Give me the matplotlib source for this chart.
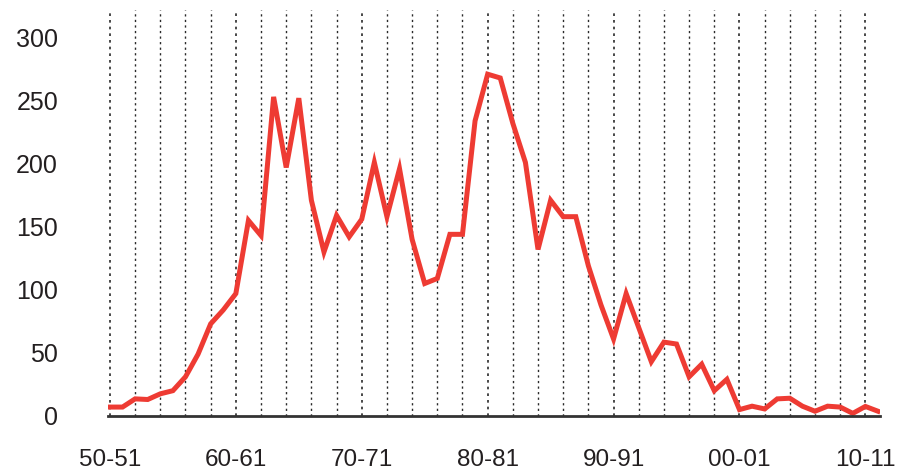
import matplotlib.pyplot as plt
import numpy as np

plt.rcParams["font.family"] = ["Liberation Sans", "DejaVu Sans"]

# seasons 1950-51 .. 2011-12
seasons = [f"{y % 100:02d}-{(y + 1) % 100:02d}" for y in range(1950, 2012)]
values = [7, 7, 13.5, 13, 17.5, 20, 31, 49, 73, 84,
          97, 155, 143, 253, 197, 252, 171, 130, 159, 142,
          156, 201, 158, 196, 140, 105, 109, 144, 144, 234,
          271, 268, 232, 201, 132, 171, 158, 158, 119, 88,
          61, 97, 70, 43, 58.5, 57, 31, 41, 20, 29,
          5, 7.7, 5.5, 13.5, 14, 7.7, 3.7, 7.7, 7, 2,
          7.5, 3.7]
tick_labels = ["50-51", "60-61", "70-71", "80-81", "90-91", "00-01", "10-11"]
y_ticks = [0, 50, 100, 150, 200, 250, 300]

x = np.arange(len(values))

fig = plt.figure(figsize=(9.08, 4.71), dpi=100)
ax = fig.add_axes([0.119, 0.117, 0.850, 0.862])

# dotted verticals every second season
for i in range(0, 61, 2):
    lw = 1.2 if i % 10 == 0 else 1.0
    ax.axvline(i, color="#2a2a2a", linestyle=(0, (1.6, 2.4)), linewidth=lw, zorder=1)

ax.plot(x, values, color="#ee3b33", linewidth=3.6, solid_joinstyle="miter", zorder=3)

ax.set_xlim(-0.15, 61.15)
ax.set_ylim(0, 322)

tick_pos = [seasons.index(t) for t in tick_labels]
ax.set_xticks(tick_pos)
ax.set_xticklabels(tick_labels, fontsize=17.5, color="#231f20")
ax.set_yticks(y_ticks)
ax.set_yticklabels([str(v) for v in y_ticks], fontsize=18, color="#231f20")
ax.tick_params(axis="x", length=0, pad=24)
ax.tick_params(axis="y", length=0, pad=36)

for s in ["top", "right", "left"]:
    ax.spines[s].set_visible(False)
ax.spines["bottom"].set_linewidth(2)
ax.spines["bottom"].set_color("#333333")
ax.spines["bottom"].set_zorder(4)

fig.savefig("out.png", dpi=100)
